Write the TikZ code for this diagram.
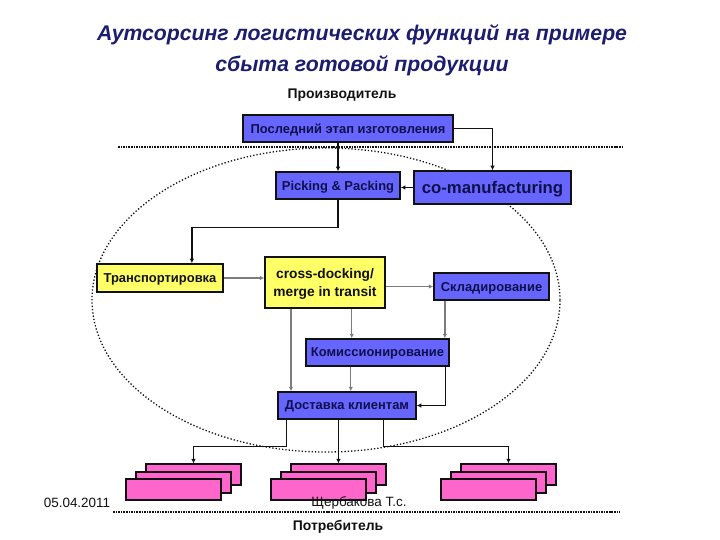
\documentclass[tikz,border=0pt]{standalone}
\usepackage{fontspec}
\setmainfont{Liberation Sans}
\setsansfont{Liberation Sans}
\usetikzlibrary{arrows.meta,positioning,calc}
\usepackage{xcolor}
\definecolor{Ink}{HTML}{111111}
\definecolor{Navy}{HTML}{1C1C70}
\definecolor{BoxText}{HTML}{10104A}
\definecolor{BoxBlue}{HTML}{6666FF}
\definecolor{BoxYellow}{HTML}{FFFF66}
\definecolor{BoxPink}{HTML}{FF66CC}

\begin{document}
\begin{tikzpicture}[x=1bp,y=-1bp,
    bluebox/.style={draw=Ink,line width=1.5bp,fill=BoxBlue,text=BoxText,inner sep=0pt,align=center,text depth=0pt,font=\bfseries\fontsize{13}{15}\selectfont},
    yellowbox/.style={bluebox,fill=BoxYellow,text=Ink},
    pinkbox/.style={draw=Ink,line width=1.2bp,fill=BoxPink,minimum width=95bp,minimum height=21bp,inner sep=0pt},
    title/.style={text=Navy,align=center,font=\bfseries\itshape\fontsize{21.3}{31}\selectfont},
    side/.style={text=Ink,font=\bfseries\fontsize{14}{16}\selectfont},
    foot/.style={text=Ink,font=\fontsize{13.5}{15}\selectfont},
    sepline/.style={densely dotted,line width=1.6bp,Ink},
    arrow/.style={-{Latex[length=4.5bp,width=4.5bp]},line width=1.3bp,draw=Ink},
    garrow/.style={arrow,draw=Ink!55}
  ]
    \useasboundingbox[fill=white] (0,0) rectangle (720,540);
    % heading and the two levels
    \node[title] (title) at (362,50) {Аутсорсинг логистических функций на примере\\сбыта готовой продукции};
    \node[side] (prod) at (342,95) {Производитель};
    \node[side] (cons) at (338,527) {Потребитель};
    \draw[sepline] (118,147) -- (623,147);
    \draw[sepline] (113,512) -- (620,512);
    \draw[dotted,line width=1.3bp,Ink] (326,300) ellipse [x radius=234bp,y radius=152bp];
    % boxes
    \node[bluebox,minimum width=210bp,minimum height=27bp] (last) at (348,128.5) {Последний этап изготовления};
    \node[bluebox,minimum width=124bp,minimum height=27bp] (pick) at (338,185.5) {Picking \& Packing};
    \node[bluebox,minimum width=157bp,minimum height=33bp,font=\bfseries\fontsize{16.8}{18}\selectfont] (coman) at (492.5,187.5) {co-manufacturing};
    \node[yellowbox,minimum width=126bp,minimum height=28bp] (trans) at (160,278) {Транспортировка};
    \node[yellowbox,minimum width=120bp,minimum height=51bp,font=\bfseries\fontsize{13.8}{19}\selectfont] (cross) at (325,282.5) {cross-docking/\\merge in transit};
    \node[bluebox,minimum width=115bp,minimum height=27bp] (sklad) at (491.5,286.5) {Складирование};
    \node[bluebox,minimum width=143bp,minimum height=27bp] (komis) at (377.5,352.5) {Комиссионирование};
    \node[bluebox,minimum width=138bp,minimum height=27bp] (dost) at (347,405.5) {Доставка клиентам};
    \foreach \g/\x in {1/193.5,2/338.5,3/508.5}{
      \node[pinkbox] (c\g) at (\x,474.5) {};
      \node[pinkbox] (c\g-m) at (\x-10,482.5) {};
      \node[pinkbox] (c\g-f) at (\x-20,489.5) {};
    }
    \node[foot] (date) at (77,503) {05.04.2011};
    \node[foot] (author) at (359,503) {Щербакова Т.с.};
    % connectors
    \draw[arrow] (last.south -| pick.north) -- (pick.north);
    \draw[arrow] (last.east) -| (coman.north);
    \draw[arrow] (coman.west) -- (pick.east |- coman.west);
    \draw[arrow] (pick.south) -- ++(0,28) -| ($(trans.north west)!0.75!(trans.north east)$);
    \draw[garrow] (trans.east) -- (cross.west |- trans.east);
    \draw[garrow] (cross.east |- sklad.west) -- (sklad.west);
    \coordinate (cr1) at ($(cross.south west)!0.22!(cross.south east)$);
    \coordinate (cr2) at ($(cross.south west)!0.72!(cross.south east)$);
    \coordinate (sk1) at ($(sklad.south west)!0.1!(sklad.south east)$);
    \coordinate (km1) at ($(komis.south west)!0.315!(komis.south east)$);
    \coordinate (km2) at ($(komis.south west)!0.97!(komis.south east)$);
    \draw[garrow] (cr2) -- (cr2 |- komis.north);
    \draw[garrow] (sk1) -- (sk1 |- komis.north);
    \draw[garrow] (cr1) -- (cr1 |- dost.north);
    \draw[garrow] (km1) -- (km1 |- dost.north);
    \draw[arrow] (km2) |- (dost.east);
    \coordinate (ds1) at ($(dost.south west)!0.065!(dost.south east)$);
    \coordinate (ds2) at ($(dost.south west)!0.76!(dost.south east)$);
    \draw[arrow] (ds1) -- ++(0,27) -| (c1.north);
    \draw[arrow] (dost.south -| c2.north) -- (c2.north);
    \draw[arrow] (ds2) -- ++(0,27) -| (c3.north);
  \end{tikzpicture}
\end{document}
